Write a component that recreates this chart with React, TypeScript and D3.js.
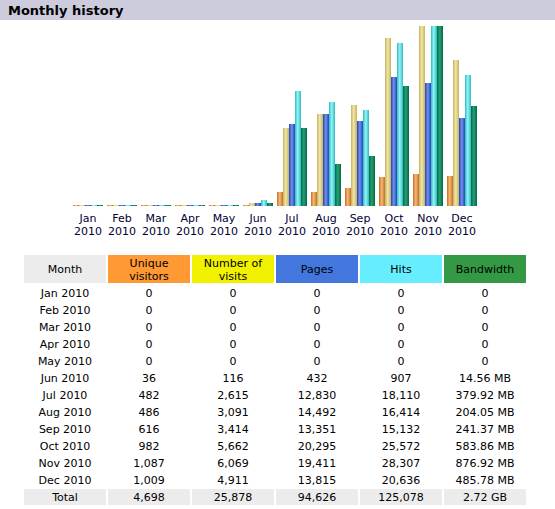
import React from "react";
import * as d3 from "d3";

// Monthly traffic for 2010
const months = ["Jan", "Feb", "Mar", "Apr", "May", "Jun", "Jul", "Aug", "Sep", "Oct", "Nov", "Dec"];
const year = "2010";
const uniqueVisitors = [0, 0, 0, 0, 0, 36, 482, 486, 616, 982, 1087, 1009];
const visits = [0, 0, 0, 0, 0, 116, 2615, 3091, 3414, 5662, 6069, 4911];
const pages = [0, 0, 0, 0, 0, 432, 12830, 14492, 13351, 20295, 19411, 13815];
const hits = [0, 0, 0, 0, 0, 907, 18110, 16414, 15132, 25572, 28307, 20636];
const bandwidthMB = [0, 0, 0, 0, 0, 14.56, 379.92, 204.05, 241.37, 583.86, 876.92, 485.78];

const columnTitles = [["Month"], ["Unique", "visitors"], ["Number of", "visits"], ["Pages"], ["Hits"], ["Bandwidth"]];

const FONT = "'DejaVu Sans', Verdana, sans-serif";
const W = 555;
const H = 509;

type SeriesKey = "u" | "v" | "p" | "h" | "k";
const seriesKeys: SeriesKey[] = ["u", "v", "p", "h", "k"];
const seriesValues: Record<SeriesKey, number[]> = {
  u: uniqueVisitors,
  v: visits,
  p: pages,
  h: hits,
  k: bandwidthMB,
};
// bar shading: edge, centre
const barShades: Record<SeriesKey, [string, string]> = {
  u: ["#c0702a", "#f8b870"],
  v: ["#c4b262", "#f2e6a4"],
  p: ["#2444b4", "#7090ee"],
  h: ["#2cbcc4", "#94f4f4"],
  k: ["#076646", "#22a074"],
};
const headerFills = ["#ececec", "#ff9933", "#f2f200", "#4477dd", "#66eeff", "#339944"];

const fmtInt = d3.format(",");
const fmtMB = (v: number) => (v === 0 ? "0" : `${v.toFixed(2)} MB`);

export default function App() {
  // bar chart scales
  const baseline = 206;
  const maxBar = 180;
  const x = d3.scaleBand<string>().domain(months).range([71, 479]).paddingInner(4 / 34).paddingOuter(2 / 34);
  const xs = d3.scaleBand<string>().domain(seriesKeys).range([0, x.bandwidth()]);
  const maxVisits = d3.max(visits) as number;
  const maxHits = d3.max(hits) as number;
  const maxBw = d3.max(bandwidthMB) as number;
  const yScale: Record<SeriesKey, d3.ScaleLinear<number, number>> = {
    u: d3.scaleLinear().domain([0, maxVisits]).range([0, maxBar]),
    v: d3.scaleLinear().domain([0, maxVisits]).range([0, maxBar]),
    p: d3.scaleLinear().domain([0, maxHits]).range([0, maxBar]),
    h: d3.scaleLinear().domain([0, maxHits]).range([0, maxBar]),
    k: d3.scaleLinear().domain([0, maxBw]).range([0, maxBar]),
  };

  // table layout
  const colX = d3.scaleBand<number>().domain(d3.range(6)).range([24, 526]).paddingInner(2 / 84);
  const rowY = (i: number) => 292.5 + i * 17;

  const rows = months.map((m, i) => [
    `${m} ${year}`,
    fmtInt(uniqueVisitors[i]),
    fmtInt(visits[i]),
    fmtInt(pages[i]),
    fmtInt(hits[i]),
    fmtMB(bandwidthMB[i]),
  ]);
  const totalMB = d3.sum(bandwidthMB);
  const totals = [
    "Total",
    fmtInt(d3.sum(uniqueVisitors)),
    fmtInt(d3.sum(visits)),
    fmtInt(d3.sum(pages)),
    fmtInt(d3.sum(hits)),
    `${(totalMB / 1024).toFixed(2)} GB`,
  ];

  return (
    <svg
      width={W}
      height={H}
      style={{ position: "absolute", left: 0, top: 0, background: "#fff" }}
      fontFamily={FONT}
    >
      <defs>
        {seriesKeys.map((k) => (
          <linearGradient key={k} id={`bar-${k}`} x1="0" x2="1" y1="0" y2="0">
            <stop offset="0" stopColor={barShades[k][0]} />
            <stop offset="0.45" stopColor={barShades[k][1]} />
            <stop offset="1" stopColor={barShades[k][0]} />
          </linearGradient>
        ))}
      </defs>

      {/* section title */}
      <rect x={0} y={0} width={W} height={20} fill="#ccccdd" />
      <text x={8} y={15} fontSize={13} fontWeight="bold" fill="#000">
        Monthly history
      </text>

      {/* bars */}
      {months.map((m, i) => (
        <g key={m} transform={`translate(${x(m)},0)`}>
          {seriesKeys.map((k) => {
            const h = Math.max(1, Math.round(yScale[k](seriesValues[k][i])));
            return (
              <rect
                key={k}
                x={xs(k)}
                y={baseline - h}
                width={xs.bandwidth()}
                height={h}
                fill={`url(#bar-${k})`}
              />
            );
          })}
          <text x={x.bandwidth() / 2} y={222} fontSize={11} textAnchor="middle" fill="#000033">
            {m}
          </text>
          <text x={x.bandwidth() / 2} y={235} fontSize={11} textAnchor="middle" fill="#000033">
            {year}
          </text>
        </g>
      ))}

      {/* table header */}
      {columnTitles.map((lines, c) => (
        <g key={c}>
          <rect x={colX(c)} y={255} width={colX.bandwidth()} height={28} fill={headerFills[c]} />
          {lines.map((t, li) => (
            <text
              key={li}
              x={(colX(c) as number) + colX.bandwidth() / 2}
              y={lines.length === 1 ? 273 : 267 + li * 12.7}
              fontSize={11}
              textAnchor="middle"
              fill="#000"
            >
              {t}
            </text>
          ))}
        </g>
      ))}

      {/* monthly rows */}
      {rows.map((r, i) => (
        <g key={i}>
          {r.map((t, c) => (
            <text
              key={c}
              x={(colX(c) as number) + colX.bandwidth() / 2}
              y={rowY(i) + 4}
              fontSize={11}
              textAnchor="middle"
              fill="#000"
            >
              {t}
            </text>
          ))}
        </g>
      ))}

      {/* totals */}
      {totals.map((t, c) => (
        <g key={c}>
          <rect x={colX(c)} y={489} width={colX.bandwidth()} height={16} fill="#ececec" />
          <text
            x={(colX(c) as number) + colX.bandwidth() / 2}
            y={rowY(12) + 4}
            fontSize={11}
            textAnchor="middle"
            fill="#000"
          >
            {t}
          </text>
        </g>
      ))}
    </svg>
  );
}
